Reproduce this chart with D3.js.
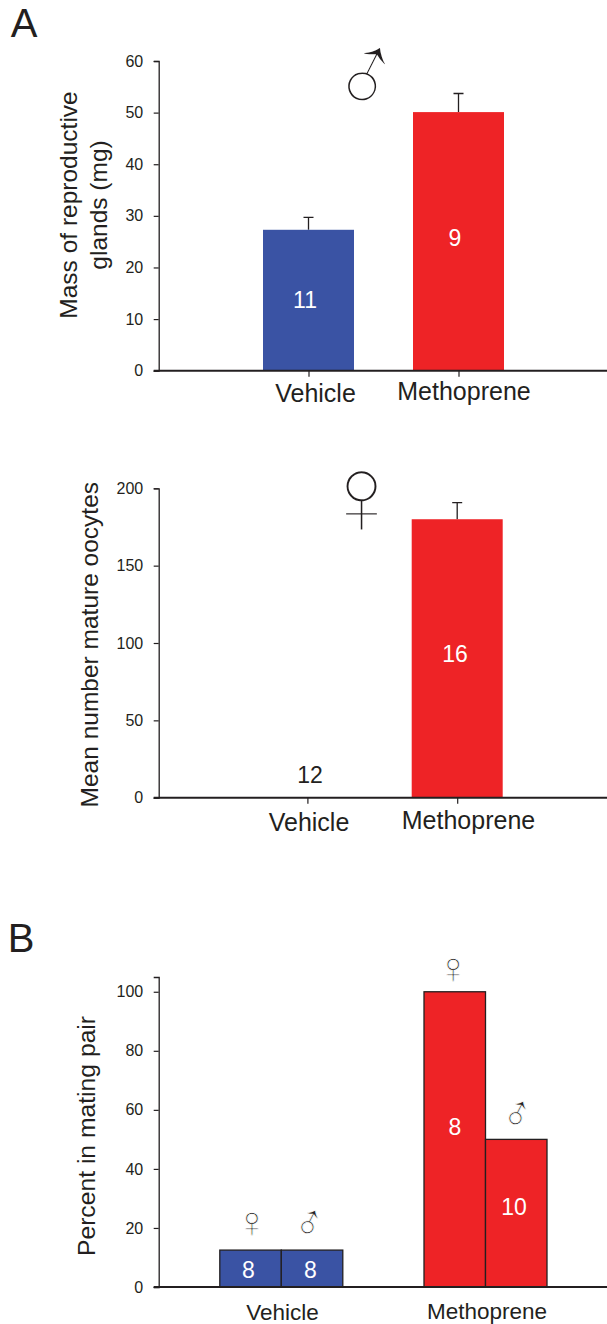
<!DOCTYPE html>
<html>
<head>
<meta charset="utf-8">
<script src="https://cdn.jsdelivr.net/npm/d3@7"></script>
<style>
html, body { margin: 0; padding: 0; background: #fff; }
svg { display: block; }
text { font-family: "Liberation Sans", Arial, sans-serif; fill: #231f20; }
.tick line, .domain { stroke: #231f20; }
</style>
</head>
<body>
<svg id="vis"></svg>
<script>
const WIDTH = 607;
const HEIGHT = 1324;
const AXIS_X = 158.7;
const BLUE = "#3a53a4";
const RED = "#ee2326";
const INK = "#231f20";
const MALE = "\u2642";
const FEMALE = "\u2640";

// panel A top
const glandCats = ["Vehicle", "Methoprene"];
const glandVals = [27.3, 50.1];
const glandErr = [29.7, 53.7];
const glandN = ["11", "9"];
const glandTicks = [0, 10, 20, 30, 40, 50, 60];

// panel A bottom
const oocyteCats = ["Vehicle", "Methoprene"];
const oocyteVals = [0, 180];
const oocyteErr = [null, 190.7];
const oocyteN = ["12", "16"];
const oocyteTicks = [0, 50, 100, 150, 200];

// panel B
const pairCats = ["Vehicle", "Methoprene"];
const pairSex = ["female", "male"];
const pairVehicle = [12.5, 12.5];
const pairMethoprene = [100, 50];
const pairN = [["8", "8"], ["8", "10"]];
const pairTicks = [0, 20, 40, 60, 80, 100];

const svg = d3.select("#vis").attr("width", WIDTH).attr("height", HEIGHT);

function yAxis(y, ticks) {
    const g = svg.append("g").attr("transform", "translate(" + AXIS_X + ",0)")
        .call(d3.axisLeft(y).tickValues(ticks).tickSize(5).tickPadding(10.5).tickFormat(d3.format("d")));
    g.select(".domain").attr("stroke-width", 1.3);
    g.selectAll(".tick line").attr("stroke-width", 1.2);
    g.selectAll(".tick text").attr("font-size", 16).style("font-family", '"Liberation Sans"');
    return g;
}

function baseline(y) {
    svg.append("line")
        .attr("x1", AXIS_X - 5).attr("x2", WIDTH)
        .attr("y1", y(0)).attr("y2", y(0))
        .attr("stroke", INK).attr("stroke-width", 2);
}

function xTicks(x, y) {
    const g = svg.append("g").attr("transform", "translate(0," + y(0) + ")")
        .call(d3.axisBottom(x).tickSize(6).tickFormat(""));
    g.select(".domain").remove();
    g.selectAll(".tick line").attr("stroke-width", 1.2);
}

function title(lines, xs, cy, size) {
    lines.forEach(function (s, i) {
        svg.append("text")
            .attr("transform", "translate(" + xs[i] + "," + cy + ") rotate(-90)")
            .attr("text-anchor", "middle")
            .attr("font-size", size)
            .text(s);
    });
}

function label(s, x, y, size, color) {
    svg.append("text")
        .attr("x", x).attr("y", y)
        .attr("text-anchor", "middle")
        .attr("font-size", size)
        .style("fill", color || INK)
        .text(s);
}

// sex symbols: white outline eats into the glyph to get the thin line
function sexMark(s, x, y, size, thin, turn) {
    const t = svg.append("text")
        .attr("x", x).attr("y", y)
        .attr("text-anchor", "middle")
        .attr("font-size", size)
        .style("stroke", "#fff")
        .style("stroke-width", thin)
        .text(s);
    if (turn) t.attr("transform", "rotate(" + turn.join(",") + ")");
}

function barPanel(cats, vals, errs, ns, ticks, yMax, yRange, xRange, barW, colors) {
    const y = d3.scaleLinear().domain([0, yMax]).range(yRange);
    const x = d3.scalePoint().domain(cats).range(xRange);
    const rows = cats.map(function (c, i) {
        return { cat: c, val: vals[i], err: errs[i], color: colors[i] };
    }).filter(function (d) { return d.val > 0; });

    svg.append("g").selectAll("line").data(rows.filter(function (d) { return d.err; })).enter()
        .append("path")
        .attr("d", function (d) {
            const cx = x(d.cat);
            return "M" + cx + "," + y(d.val) + "V" + y(d.err) + "M" + (cx - 5) + "," + y(d.err) + "H" + (cx + 5);
        })
        .attr("fill", "none").attr("stroke", INK).attr("stroke-width", 1.3);

    svg.append("g").selectAll("rect").data(rows).enter().append("rect")
        .attr("x", function (d) { return x(d.cat) - barW / 2; })
        .attr("width", barW)
        .attr("y", function (d) { return y(d.val); })
        .attr("height", function (d) { return y(0) - y(d.val); })
        .attr("fill", function (d) { return d.color; });

    yAxis(y, ticks);
    baseline(y);
    xTicks(x, y);
    return { x: x, y: y };
}

// top panel
barPanel(glandCats, glandVals, glandErr, glandN, glandTicks, 60, [370.7, 61], [308.5, 458.5], 91, [BLUE, RED]);
title(["Mass of reproductive", "glands (mg)"], [77, 106.5], 205, 24.5);
label(glandN[0], 305, 307.5, 23, "#fff");
label(glandN[1], 455, 245.5, 23, "#fff");
label(glandCats[0], 315.5, 401.5, 25);
label(glandCats[1], 464, 400, 25);
sexMark(MALE, 370, 115, 108, 2.4, [-18, 361, 88]);

// middle panel
barPanel(oocyteCats, oocyteVals, oocyteErr, oocyteN, oocyteTicks, 200, [797.7, 488.3], [307.4, 457.2], 91, [BLUE, RED]);
title(["Mean number mature oocytes"], [98], 644.7, 24.5);
label(oocyteN[0], 310, 782.5, 23);
label(oocyteN[1], 455, 661.5, 23, "#fff");
label(oocyteCats[0], 309, 830.5, 25);
label(oocyteCats[1], 468.5, 829.3, 25);
sexMark(FEMALE, 361.6, 535, 116, 2.6);

// panel B
const pairY = d3.scaleLinear().domain([0, 105]).range([1287, 977]);
const pairX = d3.scalePoint().domain(pairCats).range([281.3, 485.5]);
const pairInner = d3.scaleBand().domain(pairSex).range([-61.5, 61.5]);
const pairRows = pairCats.flatMap(function (c, i) {
    const vals = i === 0 ? pairVehicle : pairMethoprene;
    return pairSex.map(function (s, j) {
        return { cat: c, sex: s, val: vals[j], color: i === 0 ? BLUE : RED };
    });
});

svg.append("g").selectAll("rect").data(pairRows).enter().append("rect")
    .attr("x", function (d) { return pairX(d.cat) + pairInner(d.sex); })
    .attr("width", pairInner.bandwidth())
    .attr("y", function (d) { return pairY(d.val); })
    .attr("height", function (d) { return pairY(0) - pairY(d.val); })
    .attr("fill", function (d) { return d.color; })
    .attr("stroke", INK).attr("stroke-width", 1.3);

yAxis(pairY, pairTicks);
baseline(pairY);
title(["Percent in mating pair"], [95], 1136, 24.7);
label(pairN[0][0], 248.5, 1278, 23, "#fff");
label(pairN[0][1], 310.5, 1278, 23, "#fff");
label(pairN[1][0], 455, 1135, 23, "#fff");
label(pairN[1][1], 514, 1215, 23, "#fff");
label(pairCats[0], 282.6, 1320, 22.5);
label(pairCats[1], 487, 1318.7, 22.5);
sexMark(FEMALE, 252, 1237.3, 44, 0.8);
sexMark(MALE, 310.8, 1239.5, 46, 0.8, [-18, 307, 1228]);
sexMark(FEMALE, 453.3, 983.3, 44, 0.8);
sexMark(MALE, 518.8, 1130.5, 46, 0.8, [-18, 515, 1119]);

// panel letters
label("A", 24, 36.5, 40);
label("B", 21, 951.7, 40);
</script>
</body>
</html>
